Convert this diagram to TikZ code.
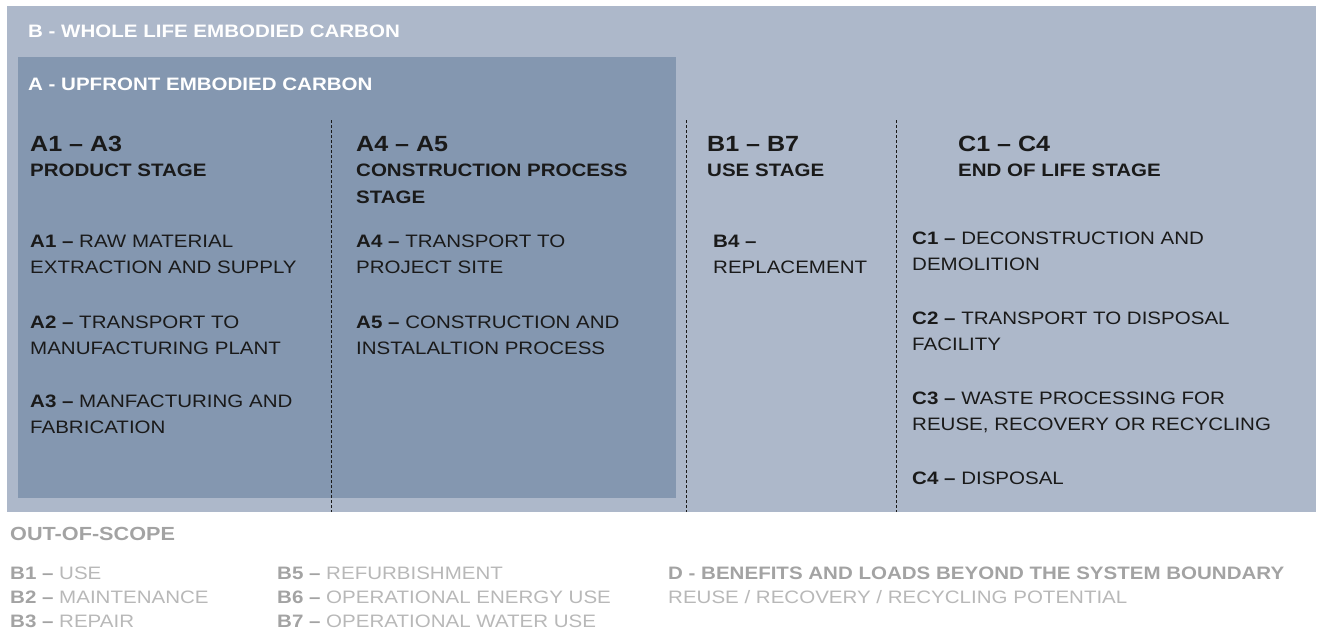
\documentclass[tikz,border=0pt]{standalone}
\usepackage{fontspec}
\setmainfont{Liberation Sans}[FakeStretch=1.14]
\usetikzlibrary{positioning}

\definecolor{wholelife}{HTML}{ADB8CA}
\definecolor{upfront}{HTML}{8497B0}
\definecolor{bodytext}{HTML}{1A1A1A}
\definecolor{scopebold}{HTML}{A3A3A3}
\definecolor{scopetext}{HTML}{B8B8B8}

\tikzstyle{title} = [anchor=base west,inner sep=0pt,text=white,font=\bfseries\fontsize{18}{20}\selectfont]
\tikzstyle{stagecode} = [anchor=base west,inner sep=0pt,text=bodytext,font=\bfseries\fontsize{22}{26}\selectfont]
\tikzstyle{stagename} = [anchor=base west,inner sep=0pt,align=left,text=bodytext,font=\bfseries\fontsize{18}{27}\selectfont]
\tikzstyle{item} = [anchor=base west,inner sep=0pt,align=left,text=bodytext,font=\fontsize{18}{26}\selectfont]
\tikzstyle{scope} = [anchor=base west,inner sep=0pt,align=left,text=scopetext,font=\fontsize{18}{24}\selectfont]
\tikzstyle{divider} = [draw=bodytext,line width=0.8pt,dash pattern=on 3pt off 2pt]

\begin{document}
\begin{tikzpicture}[x=1pt,y=-1pt]
    \useasboundingbox (0,0) rectangle (1322,637);
    %% bands
    \fill[wholelife] (7,6) rectangle (1316,512);
    \fill[upfront] (18,57) rectangle (676,498);
    \node[title] (whole) at (28,37) {B - WHOLE LIFE EMBODIED CARBON};
    \node[title] (upfrontlabel) at (28,90) {A - UPFRONT EMBODIED CARBON};
    %% dashed dividers
    \foreach \divname/\x in {ab/331, bb/686, bc/896}
    {
      \coordinate (\divname top) at (\x,120);
      \coordinate (\divname bottom) at (\x,512);
      \draw[divider] (\divname top) -- (\divname bottom);
    }
    %% stage headings (y = baseline of last line)
    \foreach \stagename/\x/\y/\code/\label in {
      prod/30/176/{A1 -- A3}/{PRODUCT STAGE},
      cons/356/203/{A4 -- A5}/{CONSTRUCTION PROCESS\\STAGE},
      use/707/176/{B1 -- B7}/{USE STAGE},
      eol/958/176/{C1 -- C4}/{END OF LIFE STAGE}}
    {
      \node[stagecode] (\stagename code) at (\x,151) {\code};
      \node[stagename] (\stagename) at (\x,\y) {\label};
    }
    %% modules
    \foreach \modname/\x/\y/\label in {
      a1/30/273/{\textbf{A1 --} RAW MATERIAL\\EXTRACTION AND SUPPLY},
      a2/30/354/{\textbf{A2 --} TRANSPORT TO\\MANUFACTURING PLANT},
      a3/30/433/{\textbf{A3 --} MANFACTURING AND\\FABRICATION},
      a4/356/273/{\textbf{A4 --} TRANSPORT TO\\PROJECT SITE},
      a5/356/354/{\textbf{A5 --} CONSTRUCTION AND\\INSTALALTION PROCESS},
      b4/713/273/{\textbf{B4 --}\\REPLACEMENT},
      c1/912/270/{\textbf{C1 --} DECONSTRUCTION AND\\DEMOLITION},
      c2/912/350/{\textbf{C2 --} TRANSPORT TO DISPOSAL\\FACILITY},
      c3/912/430/{\textbf{C3 --} WASTE PROCESSING FOR\\REUSE, RECOVERY OR RECYCLING},
      c4/912/484/{\textbf{C4 --} DISPOSAL}}
    {
      \node[item] (\modname) at (\x,\y) {\label};
    }
    %% out of scope
    \node[scope,text=scopebold,font=\bfseries\fontsize{19}{20}\selectfont] (outscope) at (10,540) {OUT-OF-SCOPE};
    \node[scope] (bleft) at (10,627) {\textcolor{scopebold}{\textbf{B1 --}} USE\\\textcolor{scopebold}{\textbf{B2 --}} MAINTENANCE\\\textcolor{scopebold}{\textbf{B3 --}} REPAIR};
    \node[scope] (bright) at (277,627) {\textcolor{scopebold}{\textbf{B5 --}} REFURBISHMENT\\\textcolor{scopebold}{\textbf{B6 --}} OPERATIONAL ENERGY USE\\\textcolor{scopebold}{\textbf{B7 --}} OPERATIONAL WATER USE};
    \node[scope] (beyond) at (668,603) {\textcolor{scopebold}{\textbf{D - BENEFITS AND LOADS BEYOND THE SYSTEM BOUNDARY}}\\REUSE / RECOVERY / RECYCLING POTENTIAL};
\end{tikzpicture}
\end{document}
